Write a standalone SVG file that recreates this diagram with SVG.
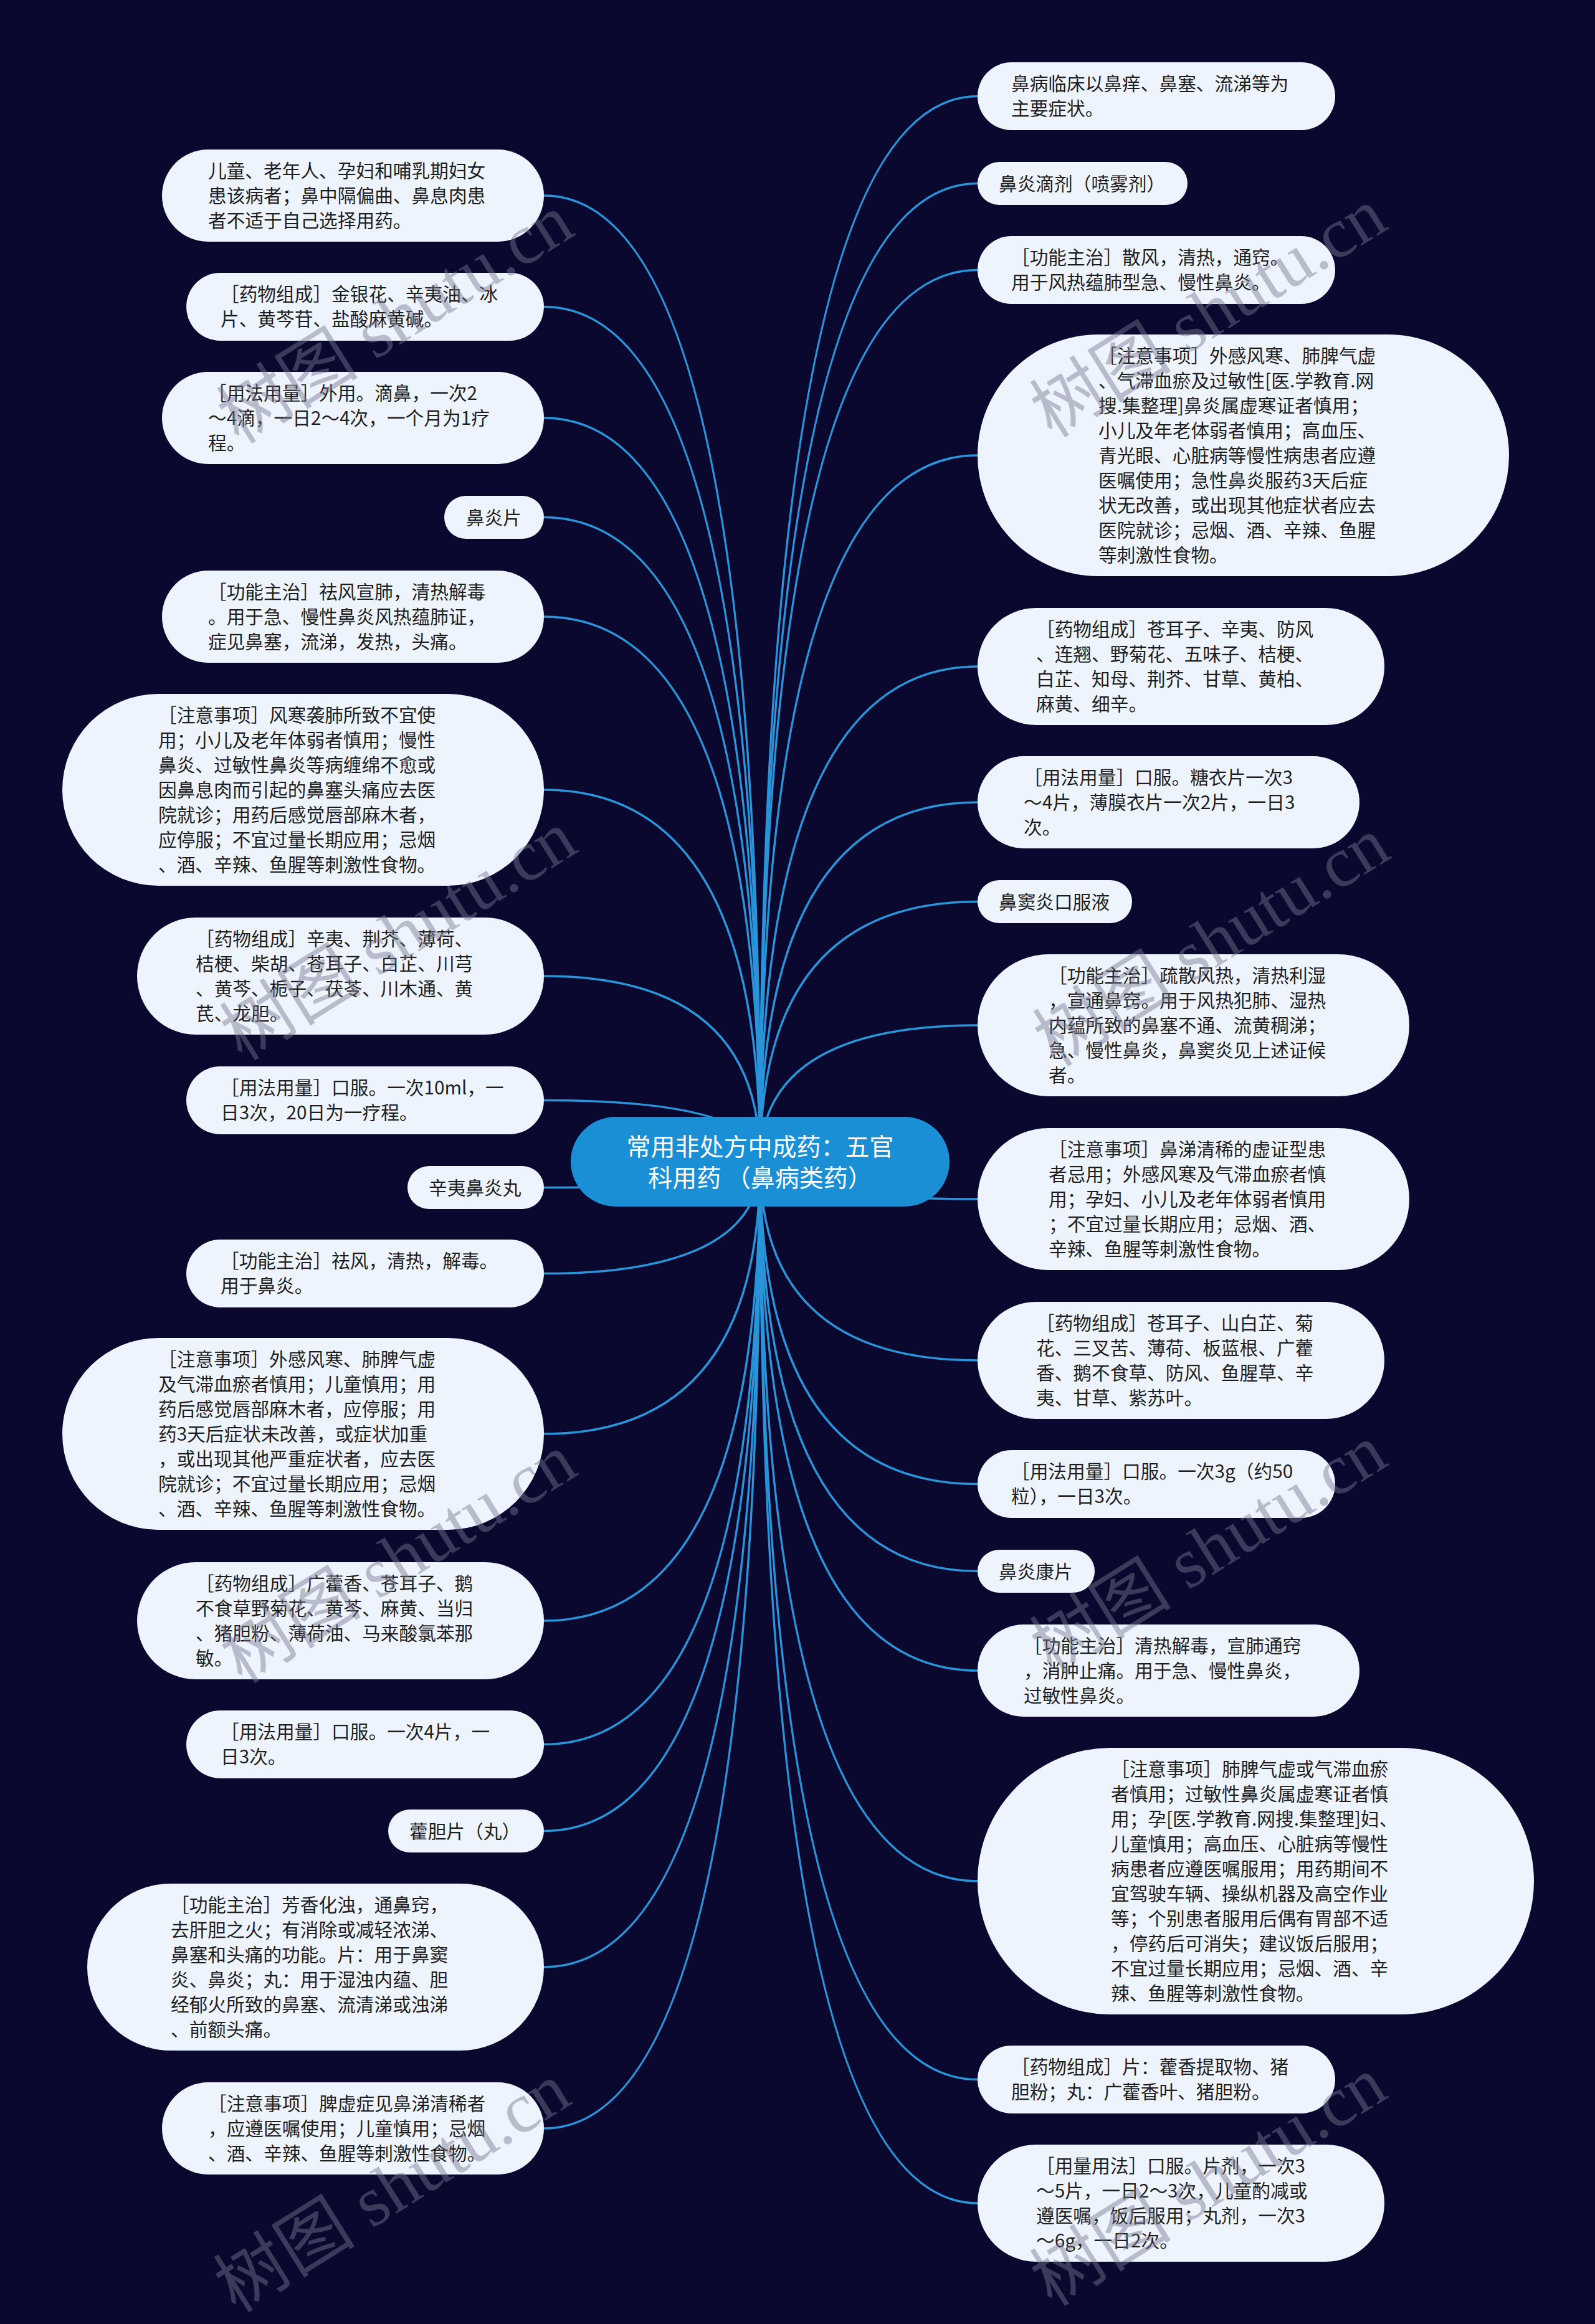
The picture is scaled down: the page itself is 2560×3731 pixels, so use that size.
<svg xmlns="http://www.w3.org/2000/svg" width="2560" height="3731" viewBox="0 0 2560 3731">
<style>
.bg{fill:#0b0830}
.leaf rect{fill:#eef4fe}
.lt{font-family:"Noto Sans CJK SC","Liberation Sans",sans-serif;font-size:29.7px;fill:#1e1e1e}
.root rect{fill:#1b8fd5}
.rt{font-family:"Noto Sans CJK SC","Liberation Sans",sans-serif;font-size:39px;fill:#ffffff;text-anchor:middle}
.conn path{fill:none;stroke:#2a94d9;stroke-width:3.5}
.wm{font-family:"Liberation Serif","Noto Sans CJK SC",serif;font-size:114px;fill:#787890;opacity:0.45;text-anchor:middle}
</style>
<rect class="bg" x="0" y="0" width="2560" height="3731"/>
<g id="connectors" class="conn">
<path d="M1220 1865 Q1220 314 873 314"/>
<path d="M1220 1865 Q1220 492.5 873 492.5"/>
<path d="M1220 1865 Q1220 671 873 671"/>
<path d="M1220 1865 Q1220 830.5 873 830.5"/>
<path d="M1220 1865 Q1220 990 873 990"/>
<path d="M1220 1865 Q1220 1268 873 1268"/>
<path d="M1220 1865 Q1220 1567 873 1567"/>
<path d="M1220 1865 Q1220 1766.5 873 1766.5"/>
<path d="M1220 1865 Q1220 1906.5 873 1906.5"/>
<path d="M1220 1865 Q1220 2044.5 873 2044.5"/>
<path d="M1220 1865 Q1220 2302 873 2302"/>
<path d="M1220 1865 Q1220 2602 873 2602"/>
<path d="M1220 1865 Q1220 2800.5 873 2800.5"/>
<path d="M1220 1865 Q1220 2939.5 873 2939.5"/>
<path d="M1220 1865 Q1220 3158 873 3158"/>
<path d="M1220 1865 Q1220 3417 873 3417"/>
<path d="M1220 1865 Q1220 154.5 1569 154.5"/>
<path d="M1220 1865 Q1220 294.5 1569 294.5"/>
<path d="M1220 1865 Q1220 433.5 1569 433.5"/>
<path d="M1220 1865 Q1220 731 1569 731"/>
<path d="M1220 1865 Q1220 1070 1569 1070"/>
<path d="M1220 1865 Q1220 1288 1569 1288"/>
<path d="M1220 1865 Q1220 1447.5 1569 1447.5"/>
<path d="M1220 1865 Q1220 1646 1569 1646"/>
<path d="M1220 1865 Q1220 1925 1569 1925"/>
<path d="M1220 1865 Q1220 2184 1569 2184"/>
<path d="M1220 1865 Q1220 2382.5 1569 2382.5"/>
<path d="M1220 1865 Q1220 2522.5 1569 2522.5"/>
<path d="M1220 1865 Q1220 2682 1569 2682"/>
<path d="M1220 1865 Q1220 3020 1569 3020"/>
<path d="M1220 1865 Q1220 3338.5 1569 3338.5"/>
<path d="M1220 1865 Q1220 3537 1569 3537"/>
</g>
<g id="root" class="root">
<rect x="916" y="1793" width="608" height="144" rx="72"/>
<text class="rt"><tspan x="1220" y="1855">常用非处方中成药：五官</tspan><tspan x="1220" y="1905">科用药 （鼻病类药）</tspan></text>
</g>
<g id="n-a1" class="leaf"><rect x="260" y="240" width="613" height="148" rx="74"/>
<text class="lt"><tspan x="334" y="285">儿童、老年人、孕妇和哺乳期妇女</tspan><tspan x="334" y="325">患该病者；鼻中隔偏曲、鼻息肉患</tspan><tspan x="334" y="365">者不适于自己选择用药。</tspan></text></g>
<g id="n-a2" class="leaf"><rect x="299" y="438" width="574" height="109" rx="54.5"/>
<text class="lt"><tspan x="354" y="483">［药物组成］金银花、辛夷油、冰</tspan><tspan x="354" y="523">片、黄芩苷、盐酸麻黄碱。</tspan></text></g>
<g id="n-a3" class="leaf"><rect x="260" y="597" width="613" height="148" rx="74"/>
<text class="lt"><tspan x="334" y="642">［用法用量］外用。滴鼻，一次2</tspan><tspan x="334" y="682">～4滴，一日2～4次，一个月为1疗</tspan><tspan x="334" y="722">程。</tspan></text></g>
<g id="n-a4" class="leaf"><rect x="713" y="796" width="160" height="69" rx="34.5"/>
<text class="lt"><tspan x="748" y="841.5">鼻炎片</tspan></text></g>
<g id="n-a5" class="leaf"><rect x="260" y="916" width="613" height="148" rx="74"/>
<text class="lt"><tspan x="334" y="961">［功能主治］祛风宣肺，清热解毒</tspan><tspan x="334" y="1001">。用于急、慢性鼻炎风热蕴肺证，</tspan><tspan x="334" y="1041">症见鼻塞，流涕，发热，头痛。</tspan></text></g>
<g id="n-a6" class="leaf"><rect x="100" y="1114" width="773" height="308" rx="154"/>
<text class="lt"><tspan x="254" y="1159">［注意事项］风寒袭肺所致不宜使</tspan><tspan x="254" y="1199">用；小儿及老年体弱者慎用；慢性</tspan><tspan x="254" y="1239">鼻炎、过敏性鼻炎等病缠绵不愈或</tspan><tspan x="254" y="1279">因鼻息肉而引起的鼻塞头痛应去医</tspan><tspan x="254" y="1319">院就诊；用药后感觉唇部麻木者，</tspan><tspan x="254" y="1359">应停服；不宜过量长期应用；忌烟</tspan><tspan x="254" y="1399">、酒、辛辣、鱼腥等刺激性食物。</tspan></text></g>
<g id="n-a7" class="leaf"><rect x="220" y="1473" width="653" height="188" rx="94"/>
<text class="lt"><tspan x="314" y="1518">［药物组成］辛夷、荆芥、薄荷、</tspan><tspan x="314" y="1558">桔梗、柴胡、苍耳子、白芷、川芎</tspan><tspan x="314" y="1598">、黄芩、栀子、茯苓、川木通、黄</tspan><tspan x="314" y="1638">芪、龙胆。</tspan></text></g>
<g id="n-a8" class="leaf"><rect x="299" y="1712" width="574" height="109" rx="54.5"/>
<text class="lt"><tspan x="354" y="1757">［用法用量］口服。一次10ml，一</tspan><tspan x="354" y="1797">日3次，20日为一疗程。</tspan></text></g>
<g id="n-a9" class="leaf"><rect x="654" y="1872" width="219" height="69" rx="34.5"/>
<text class="lt"><tspan x="688" y="1917.5">辛夷鼻炎丸</tspan></text></g>
<g id="n-a10" class="leaf"><rect x="299" y="1990" width="574" height="109" rx="54.5"/>
<text class="lt"><tspan x="354" y="2035">［功能主治］祛风，清热，解毒。</tspan><tspan x="354" y="2075">用于鼻炎。</tspan></text></g>
<g id="n-a11" class="leaf"><rect x="100" y="2148" width="773" height="308" rx="154"/>
<text class="lt"><tspan x="254" y="2193">［注意事项］外感风寒、肺脾气虚</tspan><tspan x="254" y="2233">及气滞血瘀者慎用；儿童慎用；用</tspan><tspan x="254" y="2273">药后感觉唇部麻木者，应停服；用</tspan><tspan x="254" y="2313">药3天后症状未改善，或症状加重</tspan><tspan x="254" y="2353">，或出现其他严重症状者，应去医</tspan><tspan x="254" y="2393">院就诊；不宜过量长期应用；忌烟</tspan><tspan x="254" y="2433">、酒、辛辣、鱼腥等刺激性食物。</tspan></text></g>
<g id="n-a12" class="leaf"><rect x="220" y="2508" width="653" height="188" rx="94"/>
<text class="lt"><tspan x="314" y="2553">［药物组成］广藿香、苍耳子、鹅</tspan><tspan x="314" y="2593">不食草野菊花、黄芩、麻黄、当归</tspan><tspan x="314" y="2633">、猪胆粉、薄荷油、马来酸氯苯那</tspan><tspan x="314" y="2673">敏。</tspan></text></g>
<g id="n-a13" class="leaf"><rect x="299" y="2746" width="574" height="109" rx="54.5"/>
<text class="lt"><tspan x="354" y="2791">［用法用量］口服。一次4片，一</tspan><tspan x="354" y="2831">日3次。</tspan></text></g>
<g id="n-a14" class="leaf"><rect x="623" y="2905" width="250" height="69" rx="34.5"/>
<text class="lt"><tspan x="657" y="2950.5">藿胆片（丸）</tspan></text></g>
<g id="n-a15" class="leaf"><rect x="140" y="3024" width="733" height="268" rx="134"/>
<text class="lt"><tspan x="274" y="3069">［功能主治］芳香化浊，通鼻窍，</tspan><tspan x="274" y="3109">去肝胆之火；有消除或减轻浓涕、</tspan><tspan x="274" y="3149">鼻塞和头痛的功能。片：用于鼻窦</tspan><tspan x="274" y="3189">炎、鼻炎；丸：用于湿浊内蕴、胆</tspan><tspan x="274" y="3229">经郁火所致的鼻塞、流清涕或浊涕</tspan><tspan x="274" y="3269">、前额头痛。</tspan></text></g>
<g id="n-a16" class="leaf"><rect x="260" y="3343" width="613" height="148" rx="74"/>
<text class="lt"><tspan x="334" y="3388">［注意事项］脾虚症见鼻涕清稀者</tspan><tspan x="334" y="3428">，应遵医嘱使用；儿童慎用；忌烟</tspan><tspan x="334" y="3468">、酒、辛辣、鱼腥等刺激性食物。</tspan></text></g>
<g id="n-b1" class="leaf"><rect x="1569" y="100" width="574" height="109" rx="54.5"/>
<text class="lt"><tspan x="1623" y="145">鼻病临床以鼻痒、鼻塞、流涕等为</tspan><tspan x="1623" y="185">主要症状。</tspan></text></g>
<g id="n-b2" class="leaf"><rect x="1569" y="260" width="337" height="69" rx="34.5"/>
<text class="lt"><tspan x="1603" y="305.5">鼻炎滴剂（喷雾剂）</tspan></text></g>
<g id="n-b3" class="leaf"><rect x="1569" y="379" width="574" height="109" rx="54.5"/>
<text class="lt"><tspan x="1623" y="424">［功能主治］散风，清热，通窍。</tspan><tspan x="1623" y="464">用于风热蕴肺型急、慢性鼻炎。</tspan></text></g>
<g id="n-b4" class="leaf"><rect x="1569" y="537" width="853" height="388" rx="194"/>
<text class="lt"><tspan x="1763" y="582">［注意事项］外感风寒、肺脾气虚</tspan><tspan x="1763" y="622">、气滞血瘀及过敏性[医.学教育.网</tspan><tspan x="1763" y="662">搜.集整理]鼻炎属虚寒证者慎用；</tspan><tspan x="1763" y="702">小儿及年老体弱者慎用；高血压、</tspan><tspan x="1763" y="742">青光眼、心脏病等慢性病患者应遵</tspan><tspan x="1763" y="782">医嘱使用；急性鼻炎服药3天后症</tspan><tspan x="1763" y="822">状无改善，或出现其他症状者应去</tspan><tspan x="1763" y="862">医院就诊；忌烟、酒、辛辣、鱼腥</tspan><tspan x="1763" y="902">等刺激性食物。</tspan></text></g>
<g id="n-b5" class="leaf"><rect x="1569" y="976" width="653" height="188" rx="94"/>
<text class="lt"><tspan x="1663" y="1021">［药物组成］苍耳子、辛夷、防风</tspan><tspan x="1663" y="1061">、连翘、野菊花、五味子、桔梗、</tspan><tspan x="1663" y="1101">白芷、知母、荆芥、甘草、黄柏、</tspan><tspan x="1663" y="1141">麻黄、细辛。</tspan></text></g>
<g id="n-b6" class="leaf"><rect x="1569" y="1214" width="613" height="148" rx="74"/>
<text class="lt"><tspan x="1643" y="1259">［用法用量］口服。糖衣片一次3</tspan><tspan x="1643" y="1299">～4片，薄膜衣片一次2片，一日3</tspan><tspan x="1643" y="1339">次。</tspan></text></g>
<g id="n-b7" class="leaf"><rect x="1569" y="1413" width="248" height="69" rx="34.5"/>
<text class="lt"><tspan x="1603" y="1458.5">鼻窦炎口服液</tspan></text></g>
<g id="n-b8" class="leaf"><rect x="1569" y="1532" width="693" height="228" rx="114"/>
<text class="lt"><tspan x="1683" y="1577">［功能主治］疏散风热，清热利湿</tspan><tspan x="1683" y="1617">，宣通鼻窍。用于风热犯肺、湿热</tspan><tspan x="1683" y="1657">内蕴所致的鼻塞不通、流黄稠涕；</tspan><tspan x="1683" y="1697">急、慢性鼻炎，鼻窦炎见上述证候</tspan><tspan x="1683" y="1737">者。</tspan></text></g>
<g id="n-b9" class="leaf"><rect x="1569" y="1811" width="693" height="228" rx="114"/>
<text class="lt"><tspan x="1683" y="1856">［注意事项］鼻涕清稀的虚证型患</tspan><tspan x="1683" y="1896">者忌用；外感风寒及气滞血瘀者慎</tspan><tspan x="1683" y="1936">用；孕妇、小儿及老年体弱者慎用</tspan><tspan x="1683" y="1976">；不宜过量长期应用；忌烟、酒、</tspan><tspan x="1683" y="2016">辛辣、鱼腥等刺激性食物。</tspan></text></g>
<g id="n-b10" class="leaf"><rect x="1569" y="2090" width="653" height="188" rx="94"/>
<text class="lt"><tspan x="1663" y="2135">［药物组成］苍耳子、山白芷、菊</tspan><tspan x="1663" y="2175">花、三叉苦、薄荷、板蓝根、广藿</tspan><tspan x="1663" y="2215">香、鹅不食草、防风、鱼腥草、辛</tspan><tspan x="1663" y="2255">夷、甘草、紫苏叶。</tspan></text></g>
<g id="n-b11" class="leaf"><rect x="1569" y="2328" width="574" height="109" rx="54.5"/>
<text class="lt"><tspan x="1623" y="2373">［用法用量］口服。一次3g（约50</tspan><tspan x="1623" y="2413">粒），一日3次。</tspan></text></g>
<g id="n-b12" class="leaf"><rect x="1569" y="2488" width="188" height="69" rx="34.5"/>
<text class="lt"><tspan x="1603" y="2533.5">鼻炎康片</tspan></text></g>
<g id="n-b13" class="leaf"><rect x="1569" y="2608" width="613" height="148" rx="74"/>
<text class="lt"><tspan x="1643" y="2653">［功能主治］清热解毒，宣肺通窍</tspan><tspan x="1643" y="2693">，消肿止痛。用于急、慢性鼻炎，</tspan><tspan x="1643" y="2733">过敏性鼻炎。</tspan></text></g>
<g id="n-b14" class="leaf"><rect x="1569" y="2806" width="893" height="428" rx="214"/>
<text class="lt"><tspan x="1783" y="2851">［注意事项］肺脾气虚或气滞血瘀</tspan><tspan x="1783" y="2891">者慎用；过敏性鼻炎属虚寒证者慎</tspan><tspan x="1783" y="2931">用；孕[医.学教育.网搜.集整理]妇、</tspan><tspan x="1783" y="2971">儿童慎用；高血压、心脏病等慢性</tspan><tspan x="1783" y="3011">病患者应遵医嘱服用；用药期间不</tspan><tspan x="1783" y="3051">宜驾驶车辆、操纵机器及高空作业</tspan><tspan x="1783" y="3091">等；个别患者服用后偶有胃部不适</tspan><tspan x="1783" y="3131">，停药后可消失；建议饭后服用；</tspan><tspan x="1783" y="3171">不宜过量长期应用；忌烟、酒、辛</tspan><tspan x="1783" y="3211">辣、鱼腥等刺激性食物。</tspan></text></g>
<g id="n-b15" class="leaf"><rect x="1569" y="3284" width="574" height="109" rx="54.5"/>
<text class="lt"><tspan x="1623" y="3329">［药物组成］片：藿香提取物、猪</tspan><tspan x="1623" y="3369">胆粉；丸：广藿香叶、猪胆粉。</tspan></text></g>
<g id="n-b16" class="leaf"><rect x="1569" y="3443" width="653" height="188" rx="94"/>
<text class="lt"><tspan x="1663" y="3488">［用量用法］口服。片剂，一次3</tspan><tspan x="1663" y="3528">～5片，一日2～3次，儿童酌减或</tspan><tspan x="1663" y="3568">遵医嘱，饭后服用；丸剂，一次3</tspan><tspan x="1663" y="3608">～6g，一日2次。</tspan></text></g>
<g id="watermarks">
<text class="wm" transform="translate(655,545) rotate(-32)">树图 shutu.cn</text>
<text class="wm" transform="translate(1960,535) rotate(-32)">树图 shutu.cn</text>
<text class="wm" transform="translate(660,1535) rotate(-32)">树图 shutu.cn</text>
<text class="wm" transform="translate(1965,1545) rotate(-32)">树图 shutu.cn</text>
<text class="wm" transform="translate(660,2535) rotate(-32)">树图 shutu.cn</text>
<text class="wm" transform="translate(1960,2520) rotate(-32)">树图 shutu.cn</text>
<text class="wm" transform="translate(650,3545) rotate(-32)">树图 shutu.cn</text>
<text class="wm" transform="translate(1960,3535) rotate(-32)">树图 shutu.cn</text>
</g>
</svg>
